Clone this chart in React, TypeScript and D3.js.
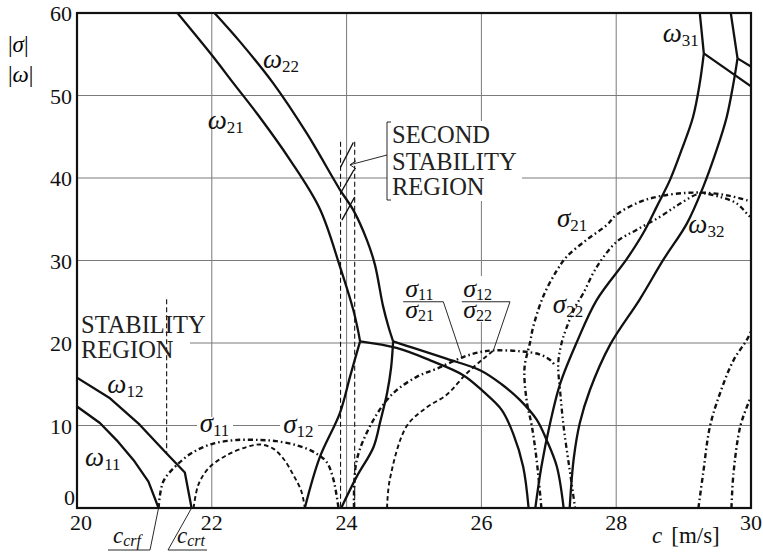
import React from 'react';
import * as d3 from 'd3';

type P = [number, number];

const W = 763, H = 553;
const xTicks = [20, 22, 24, 26, 28, 30];
const yTicks = [0, 10, 20, 30, 40, 50, 60];

// ---- ω branches (solid) ----
const omega11: P[] = [[20, 12.3], [20.34, 10.3], [20.59, 8.2], [20.84, 5.8], [21.06, 3.2], [21.21, 0]];
const omega12: P[] = [[20, 15.8], [20.49, 13.3], [20.93, 10.1], [21.33, 6.6], [21.6, 4.3], [21.7, 0]];
const omega21Upper: P[] = [[21.49, 60], [22.02, 54.7], [22.32, 51.5], [22.69, 47.6], [23.16, 42.2], [23.6, 36.3], [23.9, 29.3], [24.1, 24], [24.17, 21.5], [24.2, 20.2]];
const omega21Lower: P[] = [[24.2, 20.2], [24.74, 19.4], [25.24, 17.9], [25.73, 16.1], [26.03, 14.1], [26.3, 11.9], [26.47, 9.05], [26.62, 5], [26.7, 0]];
const branchA: P[] = [[24.2, 20.2], [24.05, 15.9], [23.9, 11.5], [23.6, 6.1], [23.38, 0]];
const omega22Upper: P[] = [[22.04, 60], [22.42, 56.5], [22.91, 51.5], [23.41, 45.4], [23.9, 38.6], [24.1, 36.1], [24.3, 32.5], [24.42, 29.5], [24.54, 24.5], [24.62, 22], [24.69, 20.2]];
const omega22Lower: P[] = [[24.69, 20.2], [24.99, 19.4], [25.48, 18.1], [25.98, 16.7], [26.3, 15.0], [26.57, 13.1], [26.82, 10.7], [26.97, 8.2], [27.12, 5.0], [27.22, 0]];
const branchB: P[] = [[24.69, 20.2], [24.66, 17], [24.6, 13.9], [24.5, 10.5], [24.4, 7.4], [24.15, 3.8], [23.92, 0]];
const omega31Upper: P[] = [[29.24, 60], [29.3, 55.1]];
const omega31Lower: P[] = [[29.3, 55.1], [29.24, 51.5], [29.14, 47.4], [28.97, 43.4], [28.8, 39.8], [28.6, 36.5], [28.4, 33.3], [28.15, 30.1], [27.71, 25.2], [27.41, 20], [27.17, 15.1], [27.02, 10.3], [26.89, 5.0], [26.8, 0]];
const branchC: P[] = [[29.3, 55.1], [30, 51.1]];
const omega32Upper: P[] = [[29.7, 60], [29.8, 54.5]];
const omega32Lower: P[] = [[29.8, 54.5], [29.74, 51.5], [29.64, 47.4], [29.49, 43.4], [29.29, 38.9], [29.05, 34.5], [28.7, 30.1], [28.35, 25.3], [27.91, 19.8], [27.61, 14.3], [27.46, 10.3], [27.37, 6], [27.31, 0]];
const branchD: P[] = [[29.8, 54.5], [30, 53.5]];

// ---- σ branches (dashed) ----
const sigma11: P[] = [[21.21, 0], [21.28, 3.2], [21.48, 5.2], [21.73, 6.8], [22.02, 7.8], [22.37, 8.24], [22.72, 8.24], [22.96, 8.1], [23.26, 7.6], [23.51, 6.8], [23.7, 5.6], [23.8, 3.6], [23.88, 0]];
const sigma12: P[] = [[21.73, 0], [21.8, 2.8], [21.95, 4.8], [22.22, 6.4], [22.52, 7.4], [22.72, 7.7], [22.91, 7.2], [23.06, 6.0], [23.21, 4.0], [23.33, 2.0], [23.38, 0]];
const sigmaMidA: P[] = [[24.11, 0], [24.15, 5.8], [24.4, 10.7], [24.69, 13.9], [25.04, 15.9], [25.34, 16.9], [25.73, 18.3], [25.98, 18.9], [26.18, 19.1], [26.57, 19.0], [26.87, 18.6], [27.04, 17.8], [27.1, 17.1]];
const sigmaMidB: P[] = [[24.6, 0], [24.64, 3.4], [24.89, 9.9], [25.19, 12.2], [25.48, 13.7], [25.78, 16.3], [26.03, 18.1], [26.18, 19.1]];
const sigma21: P[] = [[26.89, 0], [26.82, 5.8], [26.75, 9.85], [26.67, 13.1], [26.64, 17], [26.72, 20], [26.77, 22], [26.92, 25.7], [27.12, 28.8], [27.27, 30.5], [27.56, 32.5], [27.86, 34.3], [28.01, 35.6], [28.35, 37.1], [28.65, 37.8], [29.05, 38.2], [29.34, 38.2], [29.64, 37.9], [29.94, 37.3], [30, 37.1]];
const sigma22: P[] = [[27.39, 0], [27.31, 4.6], [27.22, 9.85], [27.17, 14], [27.14, 17.5], [27.19, 20], [27.27, 22], [27.4, 24.5], [27.51, 26], [27.71, 29.2], [28.01, 32.3], [28.3, 33.7], [28.65, 35.3], [28.95, 36.9], [29.24, 38.1], [29.54, 37.7], [29.79, 36.9], [29.96, 35.5], [30, 35.2]];
const sigma31: P[] = [[29.22, 0], [29.29, 4.2], [29.39, 9.85], [29.54, 13.9], [29.74, 17.9], [29.94, 20.4], [30, 21.4]];
const sigma32: P[] = [[29.71, 0], [29.74, 4.2], [29.84, 9.85], [29.96, 12.7], [30, 13.5]];

// ---- stability-region markers ----
const stabilityLine: P[] = [[21.33, 25.3], [21.33, 6.6]];
const secondLines: P[][] = [[[23.91, 44.4], [23.91, 0]], [[24.12, 44.4], [24.12, 0]]];
const hatch: P[][] = [[[23.91, 41.3], [24.1, 44.3]], [[23.92, 38.3], [24.11, 41.0]], [[23.93, 34.9], [24.12, 37.7]]];

// ---- labels ----
const omegaLabels = [
  { g: 'ω', sub: '11', at: [20.12, 5.1] },
  { g: 'ω', sub: '12', at: [20.45, 13.9] },
  { g: 'ω', sub: '21', at: [21.94, 46.0] },
  { g: 'ω', sub: '22', at: [22.76, 53.3] },
  { g: 'ω', sub: '31', at: [28.69, 56.5] },
  { g: 'ω', sub: '32', at: [29.07, 33.3] },
];
const sigmaLabels = [
  { g: 'σ', sub: '11', at: [21.82, 9.2] },
  { g: 'σ', sub: '12', at: [23.06, 9.1] },
  { g: 'σ', sub: '21', at: [27.12, 34.1] },
  { g: 'σ', sub: '22', at: [27.06, 23.6] },
];
const fractions = [
  { top: '11', bottom: '21', at: [24.87, 25.6], bar: [24.84, 25.435], tip: [25.71, 18.3] },
  { top: '12', bottom: '22', at: [25.73, 25.6], bar: [25.71, 26.424], tip: [26.18, 19.15] },
];

const x = d3.scaleLinear().domain([20, 30]).range([77, 751]);
const y = d3.scaleLinear().domain([0, 60]).range([508, 13]);
const smooth = d3.line<P>().x(d => x(d[0])).y(d => y(d[1])).curve(d3.curveCatmullRom.alpha(0.5));
const straight = d3.line<P>().x(d => x(d[0])).y(d => y(d[1]));

const FONT = '"Liberation Serif", "DejaVu Serif", "Times New Roman", serif';
const INK = '#111';

const solidStyle = { fill: 'none', stroke: INK, strokeWidth: 2.3, strokeLinejoin: 'round' as const };
const dashDot = { fill: 'none', stroke: INK, strokeWidth: 2.4, strokeDasharray: '5,3,1.6,3' };
const dashed = { fill: 'none', stroke: INK, strokeWidth: 1.9, strokeDasharray: '4.5,3' };
const dotDash = { fill: 'none', stroke: INK, strokeWidth: 2.3, strokeDasharray: '1.6,3,1.6,3,5,3' };

function Sym({ g, sub, px, py, size = 27, subSize = 17 }: any) {
  return (
    <text x={px} y={py} style={{ fontFamily: FONT }} fill={INK}>
      <tspan fontStyle="italic" fontSize={size}>{g}</tspan>
      <tspan fontSize={subSize} dy={4}>{sub}</tspan>
    </text>
  );
}

function Fraction({ top, bottom, px, py }: any) {
  return (
    <text style={{ fontFamily: FONT }} fill={INK}>
      <tspan x={px} y={py} fontStyle="italic" fontSize={26}>σ</tspan>
      <tspan fontSize={16} dy={3}>{top}</tspan>
      <tspan x={px} y={py + 21} fontStyle="italic" fontSize={26}>σ</tspan>
      <tspan fontSize={16} dy={3}>{bottom}</tspan>
    </text>
  );
}

export default function App() {
  const L = x(20), R = x(30), T = y(60), B = y(0);
  const smoothSolid = [omega21Upper, omega21Lower, branchA, omega22Upper, omega22Lower, branchB, omega31Lower, omega32Lower];
  const straightSolid = [omega11, omega12, omega31Upper, omega32Upper, branchC, branchD];
  return (
    <svg width={W} height={H} style={{ position: 'absolute', left: 0, top: 0, background: '#fff', fontFamily: FONT }}>
      <defs>
        <clipPath id="plot"><rect x={L} y={T} width={R - L} height={B - T} /></clipPath>
      </defs>
      <rect x={0} y={0} width={W} height={H} fill="#fff" />
      {/* grid */}
      <g stroke="#7a7a7a" strokeWidth={1}>
        {xTicks.slice(1, -1).map(t => <line key={'gx' + t} x1={x(t)} x2={x(t)} y1={T} y2={B} />)}
        {yTicks.slice(1, -1).map(t => <line key={'gy' + t} x1={L} x2={R} y1={y(t)} y2={y(t)} />)}
      </g>
      {/* white label boxes that interrupt the grid */}
      <g fill="#fff">
        <rect x={78} y={313} width={112} height={48} />
        <rect x={387} y={121} width={135} height={80} />
        <rect x={197} y={417} width={36} height={26} />
        <rect x={280} y={417} width={38} height={26} />
        <rect x={401} y={276} width={44} height={46} />
        <rect x={460} y={276} width={48} height={46} />
      </g>
      <g clipPath="url(#plot)">
        {/* stability markers */}
        <path d={straight(stabilityLine) || ''} fill="none" stroke={INK} strokeWidth={1.1} strokeDasharray="5,3" />
        {secondLines.map((s, i) => <path key={'sl' + i} d={straight(s) || ''} fill="none" stroke={INK} strokeWidth={1.1} strokeDasharray="5,3" />)}
        {hatch.map((s, i) => <path key={'h' + i} d={straight(s) || ''} fill="none" stroke={INK} strokeWidth={1.4} />)}
        {/* sigma curves */}
        <path d={smooth(sigma11) || ''} {...dashDot} />
        <path d={smooth(sigma12) || ''} {...dashed} />
        <path d={smooth(sigmaMidA) || ''} {...dashDot} />
        <path d={smooth(sigmaMidB) || ''} {...dashed} />
        <path d={smooth(sigma21) || ''} {...dashDot} />
        <path d={smooth(sigma22) || ''} {...dotDash} />
        <path d={smooth(sigma31) || ''} {...dashDot} />
        <path d={smooth(sigma32) || ''} {...dashDot} />
        {/* omega curves */}
        {smoothSolid.map((c, i) => <path key={'os' + i} d={smooth(c) || ''} {...solidStyle} />)}
        {straightSolid.map((c, i) => <path key={'ol' + i} d={straight(c) || ''} {...solidStyle} />)}
      </g>
      {/* frame */}
      <rect x={L} y={T} width={R - L} height={B - T} fill="none" stroke={INK} strokeWidth={2.2} />
      {/* ticks */}
      <g style={{ fontFamily: FONT }} fontSize={22} fill={INK}>
        {xTicks.map(t => <text key={'tx' + t} x={x(t) + (t === 20 ? 4 : 0)} y={530} textAnchor="middle">{t}</text>)}
        {yTicks.map(t => <text key={'ty' + t} x={t === 0 ? L - 2 : L - 5} y={t === 0 ? y(t) - 3 : y(t) + 8} textAnchor="end">{t}</text>)}
      </g>
      {/* axis titles */}
      <text x={8} y={52} style={{ fontFamily: FONT }} fontSize={23} fill="#000">|<tspan fontStyle="italic">σ</tspan>|</text>
      <text x={8} y={82} style={{ fontFamily: FONT }} fontSize={23} fill="#000">|<tspan fontStyle="italic">ω</tspan>|</text>
      <text x={652} y={543} style={{ fontFamily: FONT }} fontSize={23} fill={INK}><tspan fontStyle="italic">c</tspan><tspan dx={9}>[m/s]</tspan></text>
      {/* c_crf / c_crt */}
      <text x={113} y={543} style={{ fontFamily: FONT }} fill={INK}><tspan fontStyle="italic" fontSize={23}>c</tspan><tspan fontStyle="italic" fontSize={16} dy={3}>crf</tspan></text>
      <text x={177} y={543} style={{ fontFamily: FONT }} fill={INK}><tspan fontStyle="italic" fontSize={23}>c</tspan><tspan fontStyle="italic" fontSize={16} dy={3}>crt</tspan></text>
      <g stroke={INK} strokeWidth={0.9} fill="none">
        <polyline points={`108,550 150,550 ${x(21.21)},${y(0)}`} />
        <polyline points={`207,550 168,550 ${x(21.7)},${y(0)}`} />
      </g>
      {/* stability region texts */}
      <g style={{ fontFamily: FONT }} fontSize={24.5} fill="#222">
        <text x={81} y={333}>STABILITY</text>
        <text x={81} y={358}>REGION</text>
        <text x={392} y={143}>SECOND</text>
        <text x={392} y={170}>STABILITY</text>
        <text x={392} y={195}>REGION</text>
      </g>
      <g stroke={INK} strokeWidth={0.9} fill="none">
        <polyline points="391,122 387,122 387,200 391,200" />
        <line x1={387} y1={155} x2={x(24.05)} y2={y(41.6)} />
        <polyline points={`${x(24.05) + 6},${y(41.6) - 4} ${x(24.05)},${y(41.6)} ${x(24.05) + 6},${y(41.6) + 4}`} />
      </g>
      {/* curve labels */}
      {omegaLabels.map((l, i) => <Sym key={'ol' + i} g={l.g} sub={l.sub} px={x(l.at[0])} py={y(l.at[1])} />)}
      {sigmaLabels.map((l, i) => <Sym key={'sl' + i} g={l.g} sub={l.sub} px={x(l.at[0])} py={y(l.at[1])} size={27} />)}
      {fractions.map((f, i) => (
        <g key={'fr' + i}>
          <Fraction top={f.top} bottom={f.bottom} px={x(f.at[0])} py={y(f.at[1])} />
          <polyline points={`${x(f.bar[0])},${y(25)} ${x(f.bar[1])},${y(25)} ${x(f.tip[0])},${y(f.tip[1])}`} fill="none" stroke={INK} strokeWidth={0.9} />
        </g>
      ))}
    </svg>
  );
}
